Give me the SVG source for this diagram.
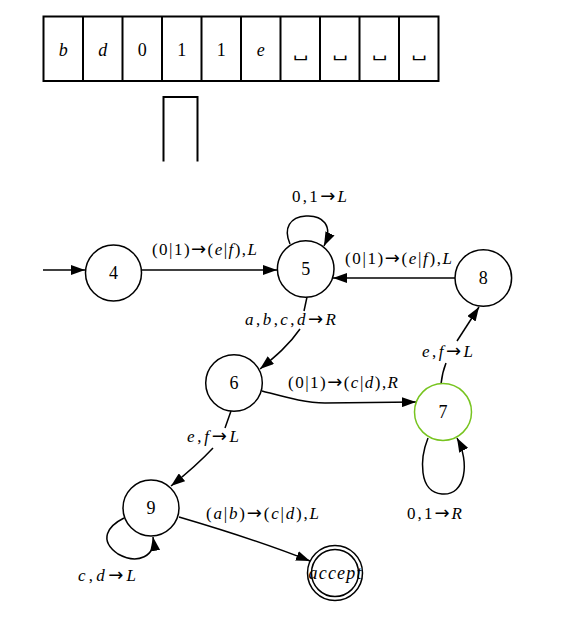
<svg xmlns="http://www.w3.org/2000/svg" width="582" height="618" viewBox="0 0 582 618">
<style>
text{font-family:"Liberation Serif","Times New Roman",serif;fill:#000}
.t{font-size:18px;text-anchor:middle}
.n{font-size:18px;text-anchor:middle}
.l{font-size:17px;text-anchor:start}
.i{font-style:italic}
.a{font-family:"DejaVu Sans",sans-serif;font-size:18px}
.cell{fill:#fff;stroke:#000;stroke-width:2}
.node{fill:#fff;stroke:#000;stroke-width:1.5}
.green{stroke:#77c41f}
.e{fill:none;stroke:#000;stroke-width:1.5}
.blank{font-family:"DejaVu Serif",serif;font-size:14px;text-anchor:start}
</style>
<defs>
<marker id="ah" viewBox="0 0 14 10" refX="14" refY="5" markerWidth="14" markerHeight="10" markerUnits="userSpaceOnUse" orient="auto">
<path d="M0,0 L14,5 L0,10 z" fill="#000"/>
</marker>
</defs>
<rect width="582" height="618" fill="#fff"/>
<g id="tape">
<rect class="cell" x="43.5" y="16.5" width="395" height="64.5"/>
<path d="M83 16.5V81M122.5 16.5V81M162 16.5V81M201.5 16.5V81M241 16.5V81M280.5 16.5V81M320 16.5V81M359.5 16.5V81M399 16.5V81" stroke="#000" stroke-width="2"/>
<text class="t i" x="63.25" y="56">b</text>
<text class="t i" x="102.75" y="56">d</text>
<text class="t" x="142.25" y="56">0</text>
<text class="t" x="181.75" y="56">1</text>
<text class="t" x="221.25" y="56">1</text>
<text class="t i" x="260.75" y="56">e</text>
<text class="blank" x="293" y="57" textLength="15" lengthAdjust="spacingAndGlyphs">␣</text>
<text class="blank" x="332.5" y="57" textLength="15" lengthAdjust="spacingAndGlyphs">␣</text>
<text class="blank" x="372" y="57" textLength="15" lengthAdjust="spacingAndGlyphs">␣</text>
<text class="blank" x="411.5" y="57" textLength="15" lengthAdjust="spacingAndGlyphs">␣</text>
</g>
<g id="head">
<path d="M163.5 161.5V97H197.5V161.5" fill="none" stroke="#000" stroke-width="2"/>
</g>
<g id="edges">
<path class="e" d="M43 270L85 270" marker-end="url(#ah)"/>
<path class="e" d="M142 270L277 270" marker-end="url(#ah)"/>
<path class="e" d="M455 278L333 278" marker-end="url(#ah)"/>
<path class="e" d="M290 244C283 228 290 217 306 216C322 215 334 225 324 246" marker-end="url(#ah)"/>
<path class="e" d="M307 297L304 311"/>
<path class="e" d="M300 329C289 345 276 356 260 369" marker-end="url(#ah)"/>
<path class="e" d="M262 391C285 397 305 403 325 403L416 402" marker-end="url(#ah)"/>
<path class="e" d="M441 384C442 375 444 368 446 363"/>
<path class="e" d="M457 341L479 307" marker-end="url(#ah)"/>
<path class="e" d="M428 438C420 458 418 492 442 494C466 496 470 462 457 438" marker-end="url(#ah)"/>
<path class="e" d="M231 411L225 428"/>
<path class="e" d="M213 448C200 462 186 474 171 486" marker-end="url(#ah)"/>
<path class="e" d="M124 518C108 526 98 540 118 554C138 565 156 556 153 537" marker-end="url(#ah)"/>
<path class="e" d="M179 517C230 532 270 545 310 561" marker-end="url(#ah)"/>
<text class="l" x="152" y="255" textLength="105" lengthAdjust="spacing">(0|1)<tspan class="a">→</tspan>(<tspan class="i">e</tspan>|<tspan class="i">f</tspan>),<tspan class="i">L</tspan></text>
<text class="l" x="292" y="202" textLength="55" lengthAdjust="spacing">0,1<tspan class="a">→</tspan><tspan class="i">L</tspan></text>
<text class="l" x="345" y="264" textLength="107" lengthAdjust="spacing">(0|1)<tspan class="a">→</tspan>(<tspan class="i">e</tspan>|<tspan class="i">f</tspan>),<tspan class="i">L</tspan></text>
<text class="l" x="245" y="325" textLength="91" lengthAdjust="spacing"><tspan class="i">a</tspan>,<tspan class="i">b</tspan>,<tspan class="i">c</tspan>,<tspan class="i">d</tspan><tspan class="a">→</tspan><tspan class="i">R</tspan></text>
<text class="l" x="288" y="388" textLength="110" lengthAdjust="spacing">(0|1)<tspan class="a">→</tspan>(<tspan class="i">c</tspan>|<tspan class="i">d</tspan>),<tspan class="i">R</tspan></text>
<text class="l" x="422" y="357" textLength="51" lengthAdjust="spacing"><tspan class="i">e</tspan>,<tspan class="i">f</tspan><tspan class="a">→</tspan><tspan class="i">L</tspan></text>
<text class="l" x="407" y="519" textLength="55" lengthAdjust="spacing">0,1<tspan class="a">→</tspan><tspan class="i">R</tspan></text>
<text class="l" x="187" y="442" textLength="52" lengthAdjust="spacing"><tspan class="i">e</tspan>,<tspan class="i">f</tspan><tspan class="a">→</tspan><tspan class="i">L</tspan></text>
<text class="l" x="78" y="581" textLength="58" lengthAdjust="spacing"><tspan class="i">c</tspan>,<tspan class="i">d</tspan><tspan class="a">→</tspan><tspan class="i">L</tspan></text>
<text class="l" x="206" y="519" textLength="113" lengthAdjust="spacing">(<tspan class="i">a</tspan>|<tspan class="i">b</tspan>)<tspan class="a">→</tspan>(<tspan class="i">c</tspan>|<tspan class="i">d</tspan>),<tspan class="i">L</tspan></text>
</g>
<g id="n4"><circle class="node" cx="113.5" cy="273" r="28"/><text class="n" x="113.5" y="279">4</text></g>
<g id="n5"><circle class="node" cx="305.7" cy="269" r="28.3"/><text class="n" x="305.7" y="275">5</text></g>
<g id="n8"><circle class="node" cx="483.3" cy="278" r="28.3"/><text class="n" x="483.3" y="284">8</text></g>
<g id="n6"><circle class="node" cx="234" cy="383" r="28.3"/><text class="n" x="234" y="389">6</text></g>
<g id="n7"><circle class="node green" cx="443" cy="412" r="28.5"/><text class="n" x="443" y="418">7</text></g>
<g id="n9"><circle class="node" cx="151" cy="508" r="28"/><text class="n" x="151" y="514">9</text></g>
<g id="naccept"><circle class="node" cx="335" cy="573" r="27.5"/><circle class="node" cx="335" cy="573" r="23.5"/><text class="n i" x="308.5" y="579" style="text-anchor:start;font-size:18px" textLength="53" lengthAdjust="spacing">accept</text></g>
</svg>
